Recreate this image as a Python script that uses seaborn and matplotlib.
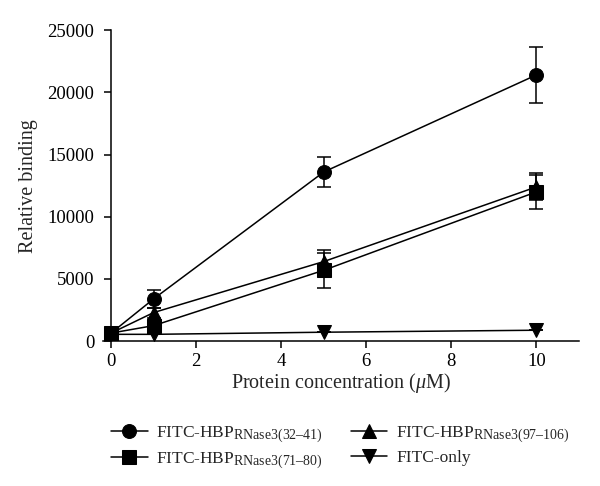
import numpy as np
import pandas as pd
import matplotlib
matplotlib.use("Agg")
import matplotlib.pyplot as plt
import seaborn as sns

try:
    import matplotlib._mathtext as _mt
    _mt.SHRINK_FACTOR = 0.8
except Exception:
    pass

# ---- data ----
conc = [0, 1, 5, 10]
series_names = [
    r"FITC-HBP$_{\mathrm{RNase3(32–41)}}$",
    r"FITC-HBP$_{\mathrm{RNase3(71–80)}}$",
    r"FITC-HBP$_{\mathrm{RNase3(97–106)}}$",
    "FITC-only",
]
vals_32_41 = [650, 3400, 13600, 21400]
err_32_41 = [0, 700, 1230, 2250]
vals_71_80 = [650, 1250, 5700, 12000]
err_71_80 = [0, 300, 1400, 1390]
vals_97_106 = [650, 2300, 6400, 12400]
err_97_106 = [0, 400, 940, 1080]
vals_only = [550, 550, 720, 880]
err_only = [0, 0, 0, 0]

x_ticks = [0, 2, 4, 6, 8, 10]
y_ticks = [0, 5000, 10000, 15000, 20000, 25000]

all_vals = [vals_32_41, vals_71_80, vals_97_106, vals_only]
all_errs = [err_32_41, err_71_80, err_97_106, err_only]
markers = ["o", "s", "^", "v"]

sns.set_style("ticks")
plt.rcParams["font.family"] = ["Liberation Serif", "DejaVu Serif"]
plt.rcParams["mathtext.fontset"] = "custom"
plt.rcParams["mathtext.rm"] = "Liberation Serif"
plt.rcParams["mathtext.it"] = "Liberation Serif:italic"

rows = []
for name, vals in zip(series_names, all_vals):
    for c, v in zip(conc, vals):
        rows.append({"conc": c, "value": v, "series": name})
df = pd.DataFrame(rows)

fig = plt.figure(figsize=(6, 4.86), dpi=100)
ax = fig.add_axes([0.171, 0.298, 0.794, 0.64])

sns.lineplot(
    data=df, x="conc", y="value", hue="series", style="series",
    hue_order=series_names, style_order=series_names,
    palette=["black"] * 4, markers=dict(zip(series_names, markers)),
    dashes=False, markersize=10, markeredgecolor="black",
    linewidth=1.1, ax=ax, legend=True,
)
for vals, errs in zip(all_vals, all_errs):
    ax.errorbar(conc, vals, yerr=errs, fmt="none", ecolor="black",
                elinewidth=1.1, capsize=4.7, capthick=1.1, zorder=1)

ax.set_xlim(-0.2, 11)
ax.set_ylim(0, 25000)
ax.spines["left"].set_position(("data", 0))
ax.spines["bottom"].set_position(("data", 0))
ax.spines["right"].set_visible(False)
ax.spines["top"].set_visible(False)
for s in ["left", "bottom"]:
    ax.spines[s].set_linewidth(1.1)
    ax.spines[s].set_color("black")
ax.set_xticks(x_ticks)
ax.set_yticks(y_ticks)
ax.tick_params(direction="out", length=5, width=1.1, labelsize=13.5, colors="black")
ax.tick_params(axis="y", pad=7)
ax.set_xlabel(r"Protein concentration ($\mathit{\mu}$M)", fontsize=14.5, labelpad=1)
ax.set_ylabel("Relative binding", fontsize=14.5, labelpad=7)

handles, labels = ax.get_legend_handles_labels()
ax.get_legend().remove()
hmap = dict(zip(labels, handles))
order = [series_names[0], series_names[1], series_names[2], series_names[3]]
fig.legend([hmap[n] for n in order], order, ncol=2, frameon=False,
           loc="upper left", bbox_to_anchor=(0.165, 0.152),
           fontsize=12.5, handlelength=2.1, columnspacing=1.6,
           labelspacing=0.3, handletextpad=0.5, borderpad=0.2)

fig.savefig("out.png", dpi=100)
